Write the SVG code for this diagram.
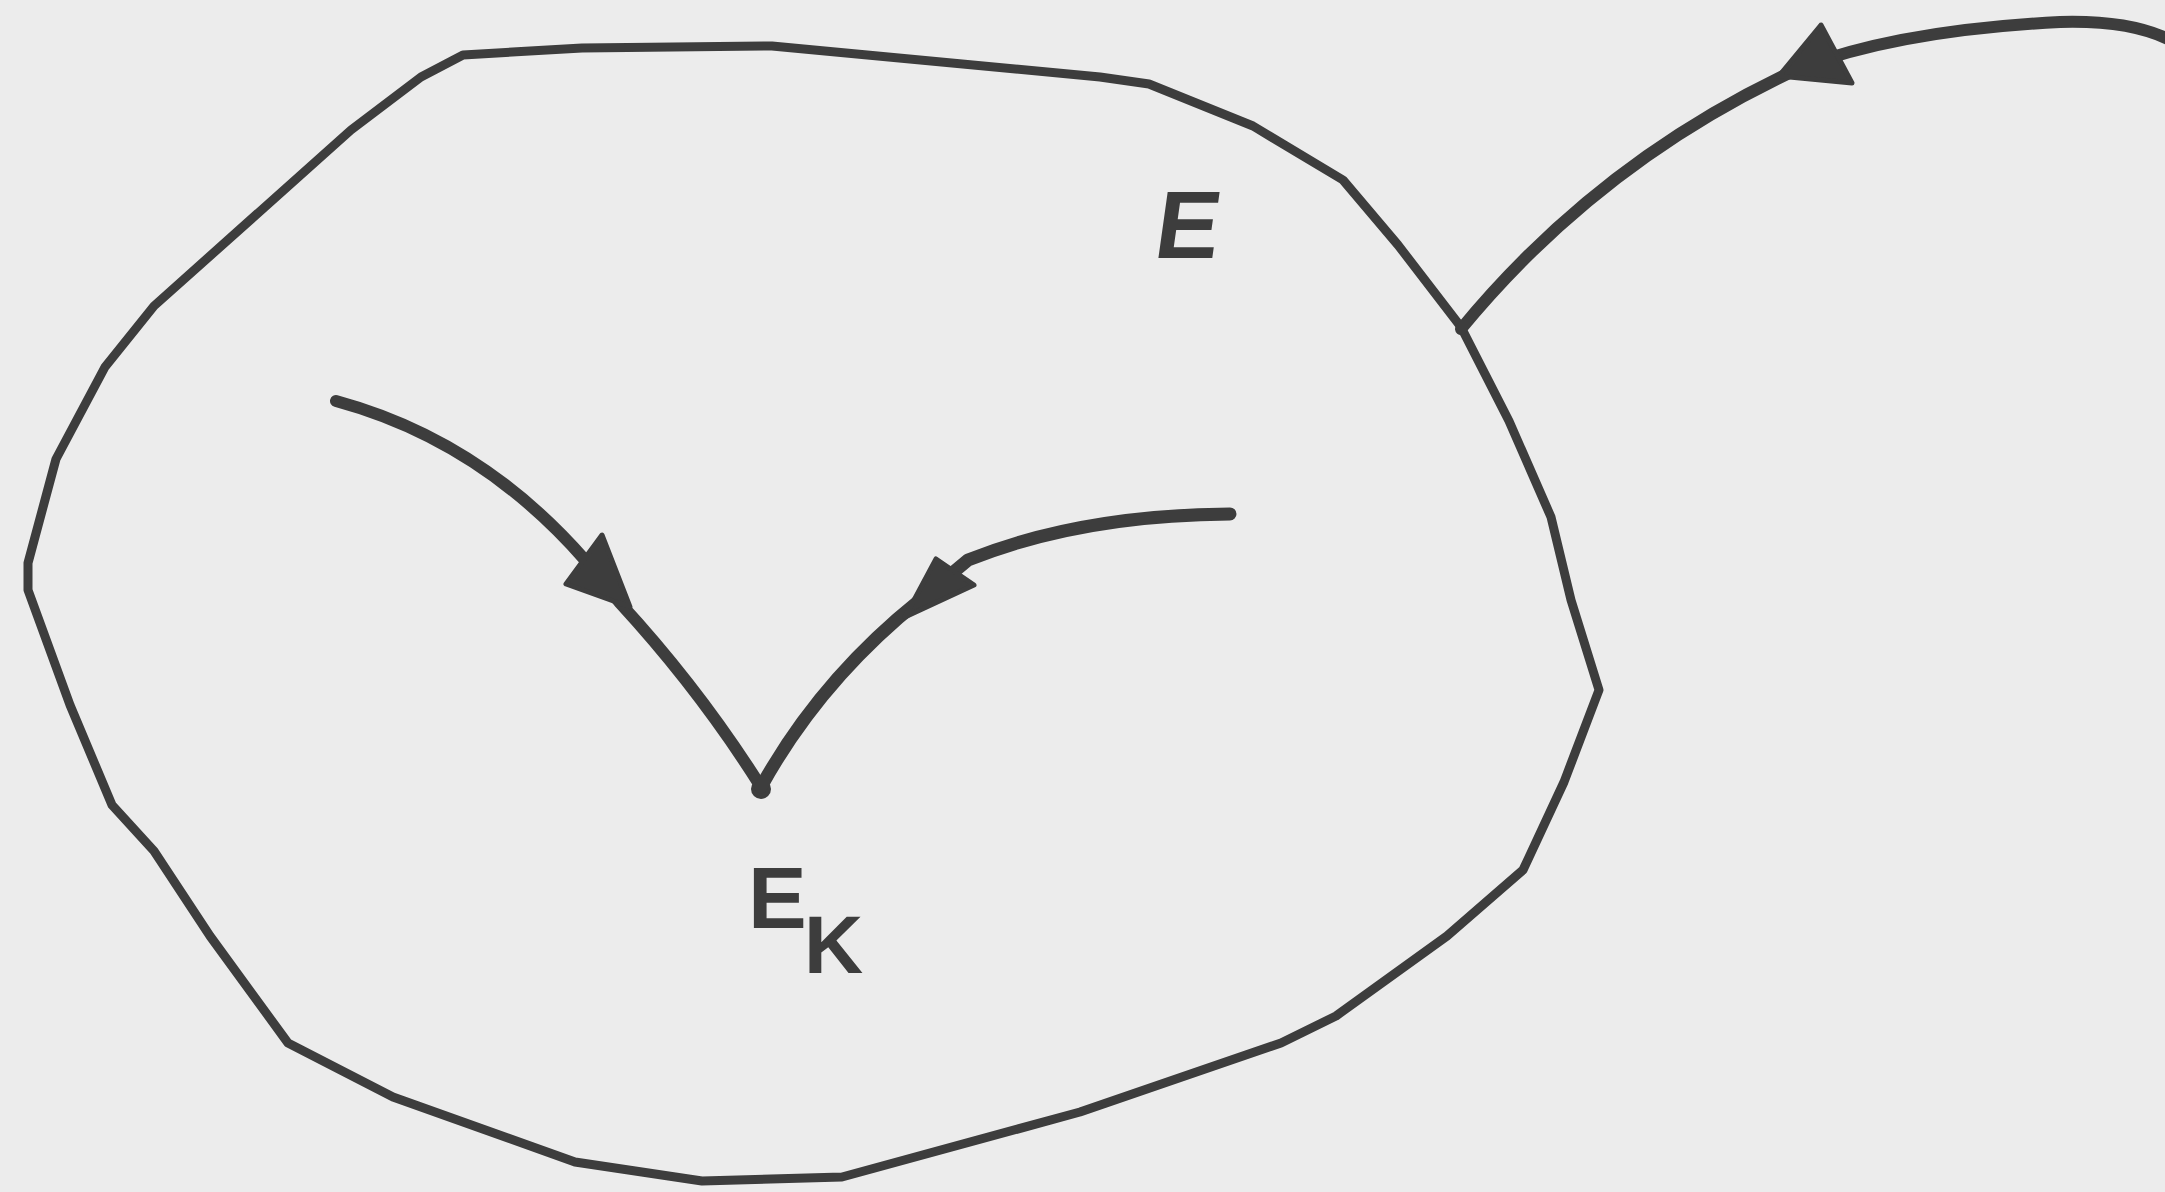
<svg xmlns="http://www.w3.org/2000/svg" width="2165" height="1192" viewBox="0 0 2165 1192">
<style>
.ink{fill:none;stroke:#3d3d3d;stroke-linecap:round;stroke-linejoin:round}
.head{fill:#3d3d3d;stroke:#3d3d3d;stroke-width:5;stroke-linejoin:round}
.lbl{font-family:"Liberation Sans",Arial,sans-serif;font-weight:bold;fill:#3d3d3d}
</style>
<rect width="2165" height="1192" fill="#ececec"/>
<g id="set-E">
<path class="ink" stroke-width="9" d="M463,55 L582,48 L772,46 L1100,77 L1149,84 L1253,126 L1343,180 L1398,245 L1461,327 L1509,421 L1551,517 L1571,600 L1599,690 L1564,782 L1523,870 L1447,936 L1336,1016 L1281,1043 L1080,1112 L842,1177 L702,1181 L575,1162 L393,1097 L288,1043 L210,936 L154,851 L112,805 L70,705 L28,590 L28,563 L56,459 L105,367 L154,306 L351,130 L421,77 Z"/>
<text class="lbl" transform="translate(1152,258) skewX(-8)" font-size="96">E</text>
</g>
<g id="node-Ek">
<circle cx="761" cy="789" r="10" fill="#3d3d3d"/>
<text class="lbl" x="748" y="928" font-size="88">E</text>
<text class="lbl" x="804" y="973" font-size="82">K</text>
</g>
<g id="connectors">
<path class="ink" stroke-width="12" d="M1461,329 Q1600,160 1800,68 Q1900,30 2060,22 Q2130,20 2170,40"/>
<polygon class="head" points="1821,25 1779,76 1852,83"/>
<path class="ink" stroke-width="12" d="M336,401 Q480,440 585,560 L620,603 Q700,690 761,787"/>
<polygon class="head" points="602,535 566,584 630,607"/>
<path class="ink" stroke-width="13" d="M1230,514 Q1080,515 968,560 L920,600 Q820,680 761,787"/>
<polygon class="head" points="936,559 905,617 974,585"/>
</g>
</svg>
